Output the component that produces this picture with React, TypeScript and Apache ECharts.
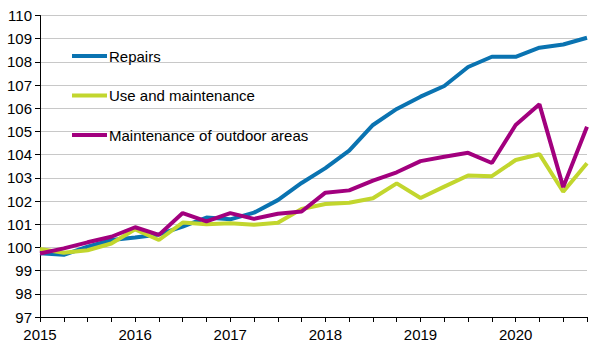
import React, { useEffect, useRef } from "react";
import * as echarts from "echarts";

const quarters: string[] = [];
const years = ["2015", "2016", "2017", "2018", "2019", "2020"];
years.forEach((y) => ["Q1", "Q2", "Q3", "Q4"].forEach((q) => quarters.push(y + q)));

const seriesNames = ["Repairs", "Use and maintenance", "Maintenance of outdoor areas"];

const repairs = [99.75, 99.68, 100.03, 100.32, 100.43, 100.56, 100.9, 101.29, 101.21, 101.5, 102.04, 102.78, 103.42, 104.17, 105.28, 105.97, 106.5, 106.96, 107.78, 108.22, 108.22, 108.61, 108.75, 109.04];
const useAndMaintenance = [99.93, 99.77, 99.88, 100.17, 100.78, 100.32, 101.07, 101.0, 101.04, 100.98, 101.06, 101.66, 101.87, 101.93, 102.12, 102.76, 102.13, 102.62, 103.1, 103.07, 103.77, 104.02, 102.4, 103.63];
const outdoorAreas = [99.74, 99.96, 100.22, 100.46, 100.87, 100.54, 101.48, 101.12, 101.48, 101.23, 101.45, 101.55, 102.36, 102.46, 102.88, 103.24, 103.72, 103.91, 104.08, 103.64, 105.28, 106.17, 102.6, 105.2];

const colors = ["#0a73b1", "#c2d62e", "#a2007e"];
const FONT = "'Liberation Sans', Arial, sans-serif";

export default function App() {
  const ref = useRef<HTMLDivElement>(null);
  useEffect(() => {
    if (!ref.current) return;
    const chart = echarts.init(ref.current, undefined, { renderer: "svg" });
    const data = [repairs, useAndMaintenance, outdoorAreas];
    chart.setOption({
      animation: false,
      color: colors,
      textStyle: { fontFamily: FONT },
      grid: { left: 40, right: 27, top: 15.5, bottom: 46, containLabel: false },
      legend: {
        orient: "vertical",
        left: 67,
        top: 43,
        padding: 5,
        icon: "rect",
        itemWidth: 35,
        itemHeight: 4,
        itemGap: 23.5,
        textStyle: { fontSize: 15, color: "#000", fontFamily: FONT, lineHeight: 16, padding: [0, 0, 0, -3] },
        data: seriesNames,
      },
      xAxis: {
        type: "category",
        data: quarters,
        boundaryGap: false,
        axisLine: { lineStyle: { color: "#000", width: 1 } },
        axisTick: { show: true, interval: 0, length: 5, lineStyle: { color: "#000" } },
        axisLabel: {
          interval: 3,
          margin: 10,
          fontSize: 15,
          color: "#000",
          fontFamily: FONT,
          formatter: (v: string) => v.slice(0, 4),
        },
        splitLine: { show: false },
      },
      yAxis: {
        type: "value",
        min: 97,
        max: 110,
        interval: 1,
        axisLine: { show: true, lineStyle: { color: "#000", width: 1 } },
        axisTick: { show: true, length: 5, lineStyle: { color: "#000" } },
        axisLabel: { margin: 8, fontSize: 15, color: "#000", fontFamily: FONT },
        splitLine: { show: true, lineStyle: { color: "#c8c8c8", width: 1 } },
      },
      series: seriesNames.map((name, i) => ({
        name,
        type: "line",
        data: data[i],
        symbol: "none",
        lineStyle: { width: 4, color: colors[i] },
        itemStyle: { color: colors[i] },
      })),
    });
    return () => chart.dispose();
  }, []);
  return <div ref={ref} style={{ position: "absolute", left: 0, top: 0, width: 614, height: 363 }} />;
}
